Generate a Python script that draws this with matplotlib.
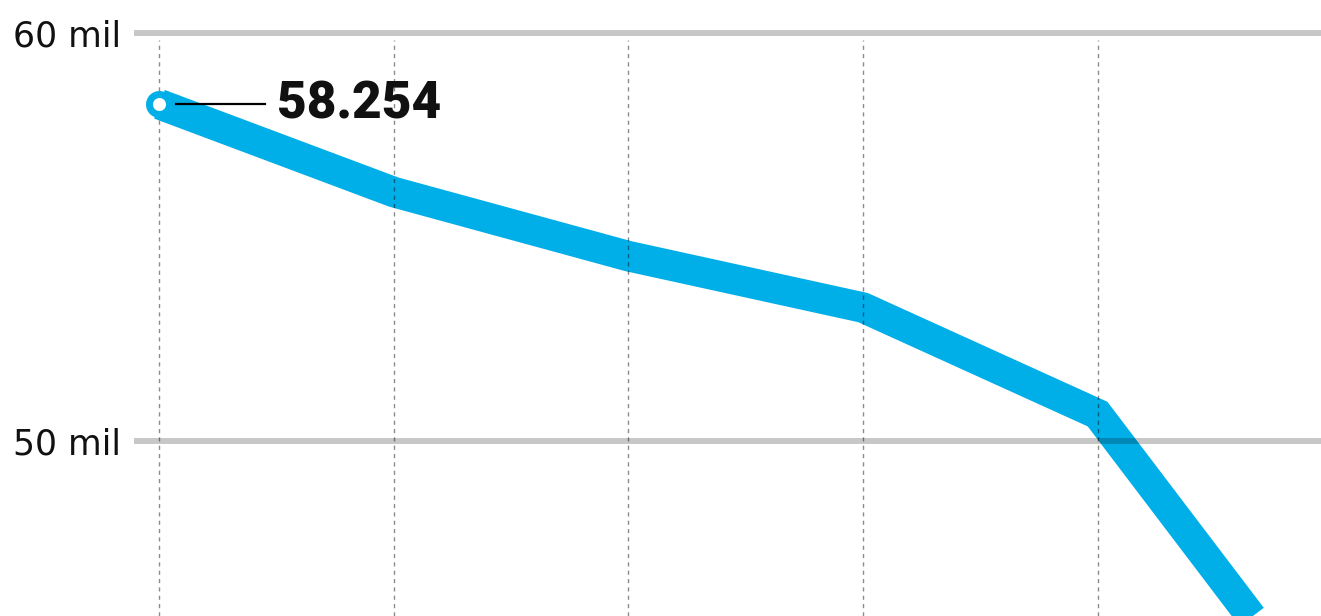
import matplotlib.pyplot as plt
import matplotlib.transforms as mtransforms

# data
x_idx = [0, 1, 2, 3, 4, 5]
values = [58.254, 56.10, 54.53, 53.27, 50.66, 43.09]
y_ticks = [50, 60]
y_labels = ['50 mil', '60 mil']
first_label = '58.254'

blue = '#00aee8'

fig = plt.figure(figsize=(13.21, 6.16), dpi=100)
ax = fig.add_axes([0, 0, 1, 1])
ax.set_xlim(-0.68, 4.953)
ax.set_ylim(45.71, 60.81)
ax.axis('off')

# main line
ax.plot(x_idx, values, color=blue, lw=22, solid_joinstyle='miter',
        solid_capstyle='butt', zorder=2)
ax.plot(x_idx[0], values[0], 'o', ms=14.4, mfc='white', mec=blue, mew=5, zorder=4)

# grid drawn over the line, semi-transparent
for t in y_ticks:
    ax.axhline(t, xmin=0.1037, xmax=1, color='black', alpha=0.22, lw=4.3, zorder=3)
for x in x_idx[:5]:
    ax.vlines(x, 45.71, 59.83, color='black', alpha=0.45, lw=1.0,
              linestyles=(0, (3, 3)), zorder=3)

# tick labels
trans = mtransforms.blended_transform_factory(ax.transAxes, ax.transData)
for t, lab in zip(y_ticks, y_labels):
    ax.text(0.0915, t - 0.08, lab, transform=trans, ha='right', va='center',
            fontsize=25, family='DejaVu Sans', color='#111111')

# first value annotation
ax.plot([x_idx[0] + 0.07, x_idx[0] + 0.45], [values[0], values[0]], color='black', lw=1.6, zorder=5)
ax.text(x_idx[0] + 0.50, values[0], first_label, ha='left', va='center',
        fontsize=37, fontweight='heavy', family='Roboto', color='#111111', zorder=5)

fig.savefig('out.png', dpi=100)
